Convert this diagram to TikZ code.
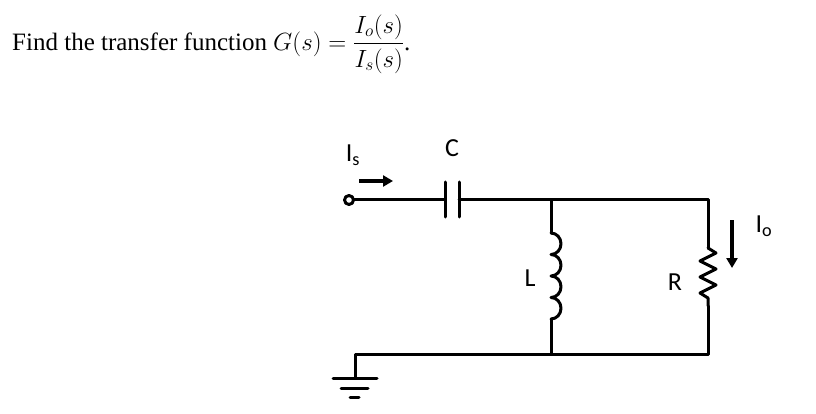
\documentclass[tikz,border=0pt]{standalone}
\usepackage{amsmath}
\usepackage{fontspec}
\setmainfont{Liberation Serif}
\newfontfamily\labelfont{Carlito}
\usetikzlibrary{calc}
\usetikzlibrary{positioning}
\usetikzlibrary{arrows.meta}

\begin{document}
\begin{tikzpicture}[x=1pt, y=-1pt, >=Triangle]
            % Styles
            \tikzset{
                wire/.style={
                        line width=3pt,
                        line cap=round,
                        line join=round
                    }
            }
            \tikzset{
                partLabel/.style={
                        font=\labelfont\fontsize{26}{28}\selectfont,
                        inner sep=0pt
                    }
            }
            \tikzset{
                currentArrow/.style={
                        line width=3.5pt,
                        -{Triangle[length=10pt, width=11pt]}
                    }
            }
            \useasboundingbox (0,0) rectangle (816,414);
            % Question text
            \node[anchor=west, inner sep=0pt, font=\fontsize{25}{30}\selectfont](question) at (12,44)
                {Find the transfer function $G(s)=\dfrac{I_o(s)}{I_s(s)}$.};
            % Circuit corners
            \coordinate (input) at (349,200);
            \coordinate (capLeft) at (445,200);
            \coordinate (capRight) at (459,200);
            \coordinate (topMid) at (551,200);
            \coordinate (topRight) at (708,200);
            \coordinate (indTop) at (551,233);
            \coordinate (indBottom) at (551,319);
            \coordinate (resTop) at (708,248);
            \coordinate (resBottom) at (708,306);
            \coordinate (bottomMid) at (551,354);
            \coordinate (bottomRight) at (708,354);
            \coordinate (bottomLeft) at (355,354);
            \coordinate (groundTop) at (355,378);
            % Wires
            \draw[wire] ([xshift=4.5pt]input) -- (capLeft);
            \draw[wire] (capRight) -- (topRight) -- (resTop);
            \draw[wire] (topMid) -- (indTop);
            \draw[wire] (indBottom) -- (bottomMid);
            \draw[wire] (resBottom) -- (bottomRight) -- (bottomLeft) -- (groundTop);
            \draw[wire] (input) circle (4.5pt);
            % Capacitor
            \draw[wire] (445,182) -- (445,217);
            \draw[wire] (459,182) -- (459,217);
            % Inductor
            \draw[wire] (indTop) \foreach \k in {0,1,2,3} {
                    arc[start angle=-90, end angle=90, x radius=10pt, y radius=-10.75pt]
                };
            % Resistor
            \draw[wire] (resTop) -- ++(8,5) -- ++(-16,8) -- ++(16,8) -- ++(-16,8)
                -- ++(16,8) -- ++(-16,8) -- ++(8,5) -- (resBottom);
            % Ground
            \draw[wire] (333,378) -- (377,378);
            \draw[wire] (341,388) -- (368,388);
            \draw[wire] (350,397) -- (359,397);
            % Currents
            \coordinate (isTail) at (359,181);
            \coordinate (isHead) at (393,181);
            \coordinate (ioTail) at (732,220);
            \coordinate (ioHead) at (732,268);
            \draw[currentArrow] (isTail) -- (isHead);
            \draw[currentArrow] (ioTail) -- (ioHead);
            % Labels
            \node[partLabel](isLabel) at (353,155) {I\textsubscript{s}};
            \node[partLabel](capLabel) at (452,148) {C};
            \node[partLabel](indLabel) at (530,278) {L};
            \node[partLabel](resLabel) at (675,282) {R};
            \node[partLabel](ioLabel) at (764,226) {I\textsubscript{o}};
        \end{tikzpicture}
\end{document}
